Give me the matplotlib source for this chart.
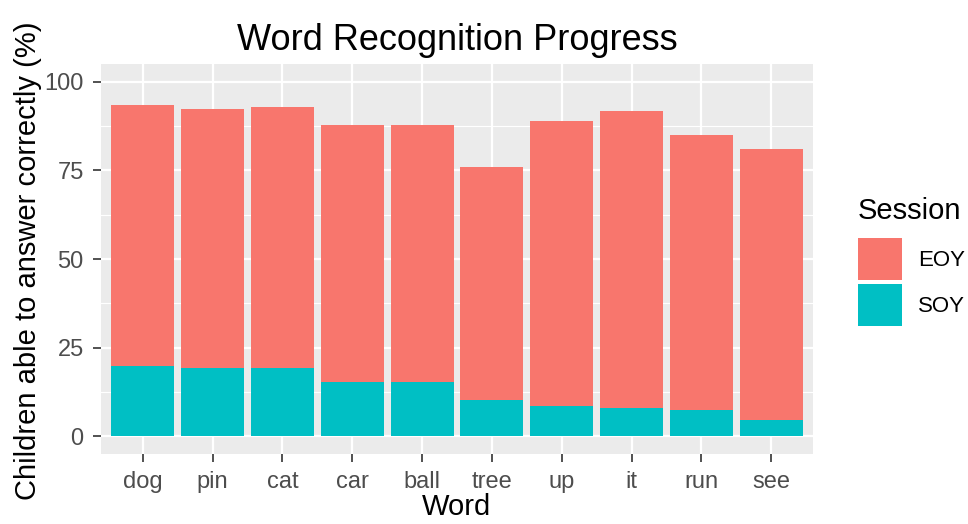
import matplotlib
matplotlib.use("Agg")
import matplotlib.pyplot as plt
from matplotlib.patches import Rectangle
from matplotlib.ticker import MultipleLocator

words = ["dog", "pin", "cat", "car", "ball", "tree", "up", "it", "run", "see"]
eoy = [93.5, 92.3, 92.8, 87.8, 87.8, 75.9, 88.9, 91.7, 84.9, 81.0]
soy = [19.9, 19.35, 19.35, 15.4, 15.4, 10.3, 8.6, 8.07, 7.5, 4.7]
yticks = [0, 25, 50, 75, 100]

EOY_C = "#F8766D"
SOY_C = "#00BFC4"

plt.rcParams['font.family'] = ['Liberation Sans', 'DejaVu Sans']

W, H = 968, 524
fig = plt.figure(figsize=(W / 100, H / 100), dpi=100)
left, right, top, bottom = 101, 813, 64, 454
pw, ph = right - left, bottom - top
ax = fig.add_axes([left / W, 1 - bottom / H, pw / W, ph / H])
ax.set_facecolor("#EBEBEB")

x = list(range(len(words)))
ax.bar(x, eoy, width=0.9, color=EOY_C, zorder=3)
ax.bar(x, soy, width=0.9, color=SOY_C, zorder=4)

ax.set_xlim(-0.6, len(words) - 0.4)
ax.set_ylim(-5, 105)
ax.set_xticks(x)
ax.set_xticklabels(words)
ax.set_yticks(yticks)
ax.yaxis.set_minor_locator(MultipleLocator(12.5))
ax.grid(True, which="major", color="white", linewidth=1.6, zorder=0)
ax.grid(True, which="minor", axis="y", color="white", linewidth=0.8, zorder=0)
ax.set_axisbelow(True)
for s in ax.spines.values():
    s.set_visible(False)
ax.tick_params(axis="both", which="major", length=5.5, width=1.2, color="#333333",
               labelcolor="#4D4D4D", labelsize=17)
ax.tick_params(axis="y", pad=7)
ax.tick_params(axis="x", pad=7)
ax.tick_params(axis="both", which="minor", length=0)

xl = ax.set_xlabel("Word", fontsize=21, color="black")
xl.set_va("baseline")
ax.xaxis.set_label_coords(0.5, (bottom - 515) / ph)
yl = ax.set_ylabel("Children able to answer correctly (%)", fontsize=21, color="black")
yl.set_va("center")
ax.yaxis.set_label_coords((28 - left) / pw, 0.5 - (261 - (top + bottom) / 2) / ph)
ax.set_title("Word Recognition Progress", fontsize=26, color="black", pad=10)

# Legend
fig.text(858 / W, 1 - 211 / H, "Session", fontsize=21, ha="left", va="center")
keys = [("EOY", EOY_C, 238), ("SOY", SOY_C, 284)]
for lab, col, ytop in keys:
    fig.patches.append(Rectangle((858 / W, 1 - (ytop + 42) / H), 44 / W, 42 / H,
                                 transform=fig.transFigure, facecolor=col,
                                 edgecolor="none"))
    fig.text(918 / W, 1 - (ytop + 22) / H, lab, fontsize=16, ha="left", va="center")

fig.savefig("out.png", dpi=100)
